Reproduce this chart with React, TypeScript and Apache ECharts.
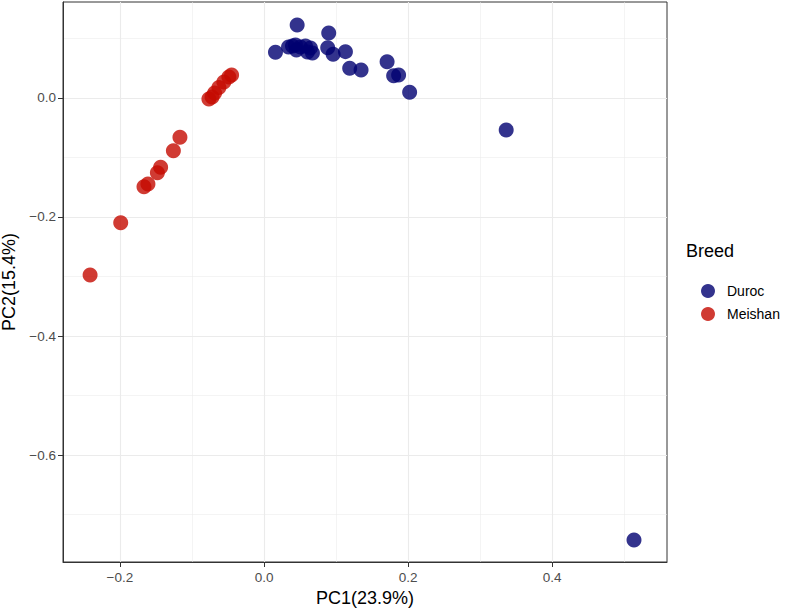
import React, { useEffect, useRef } from "react";
import * as echarts from "echarts";

// PCA scores
const durocPC1 = [0.0159, 0.046, 0.034, 0.0395, 0.0437, 0.0506, 0.0575, 0.0644, 0.0672, 0.045, 0.0603, 0.0898, 0.0884, 0.0959, 0.113, 0.1189, 0.1347, 0.1708, 0.1799, 0.1868, 0.2021, 0.3361, 0.5135];
const durocPC2 = [0.0768, 0.1227, 0.0857, 0.0874, 0.0891, 0.0857, 0.0874, 0.084, 0.0756, 0.0807, 0.0773, 0.1092, 0.0846, 0.0735, 0.0779, 0.0499, 0.0471, 0.061, 0.0375, 0.0387, 0.0096, -0.0538, -0.7429];
const meishanPC1 = [-0.2414, -0.1989, -0.1666, -0.1611, -0.148, -0.1435, -0.1258, -0.1167, -0.0765, -0.0721, -0.0686, -0.0626, -0.0557, -0.0488, -0.045];
const meishanPC2 = [-0.2975, -0.2096, -0.1491, -0.1445, -0.1255, -0.1165, -0.0886, -0.0661, -0.0017, 0.0017, 0.0084, 0.0176, 0.0269, 0.0353, 0.0387];

const seriesNames = ["Duroc", "Meishan"];
const xMajorTicks = [-0.2, 0, 0.2, 0.4];
const xMinorTicks = [-0.1, 0.1, 0.3, 0.5];
const yMajorTicks = [-0.6, -0.4, -0.2, 0];
const yMinorTicks = [-0.7, -0.5, -0.3, -0.1, 0.1];
const xLimits = [-0.279, 0.5593];
const yLimits = [-0.7798, 0.1613];

const FONT = "'Liberation Sans', Arial, Helvetica, sans-serif";
const fmt = (v: number) => v.toFixed(1).replace("-", "\u2212");

export default function App() {
  const ref = useRef<HTMLDivElement>(null);
  useEffect(() => {
    document.body.style.margin = "0";
    const chart = echarts.init(ref.current!, null, { renderer: "svg" });
    const zip = (a: number[], b: number[]) => a.map((v, i) => [v, b[i]]);
    const gridLine = (w: number) => ({ show: true, lineStyle: { color: "#ebebeb", width: w } });
    chart.setOption({
      animation: false,
      backgroundColor: "#ffffff",
      textStyle: { fontFamily: FONT },
      title: {
        text: "Breed",
        left: 686,
        top: 242,
        padding: 0,
        textStyle: { fontSize: 18, fontWeight: "normal", color: "#000", fontFamily: FONT },
      },
      legend: {
        orient: "vertical",
        left: 696,
        top: 279,
        itemWidth: 14,
        itemHeight: 14,
        itemGap: 9,
        icon: "circle",
        data: seriesNames,
        textStyle: { fontSize: 14, color: "#000", fontFamily: FONT, padding: [0, 0, 0, 7] },
      },
      grid: {
        left: 63,
        right: 120,
        top: 2,
        bottom: 49,
        show: true,
        borderColor: "#333333",
        borderWidth: 1,
        backgroundColor: "#ffffff",
        containLabel: false,
        outerBoundsMode: "none",
      },
      xAxis: [
        {
          type: "value",
          min: xLimits[0],
          max: xLimits[1],
          position: "bottom",
          name: "PC1(23.9%)",
          nameLocation: "middle",
          nameGap: 27,
          nameTextStyle: { fontSize: 18, color: "#000", fontFamily: FONT },
          axisLine: { show: true, onZero: false, lineStyle: { color: "#333333", width: 1 } },
          axisTick: { show: true, length: 5, customValues: xMajorTicks, lineStyle: { color: "#333333" } },
          axisLabel: { customValues: xMajorTicks, formatter: fmt, color: "#4d4d4d", fontSize: 13.5, margin: 8, fontFamily: FONT },
          splitLine: gridLine(1.1),
        },
        {
          type: "value",
          min: xLimits[0],
          max: xLimits[1],
          position: "bottom",
          axisLine: { show: false },
          axisTick: { show: false, customValues: xMinorTicks },
          axisLabel: { show: false },
          splitLine: gridLine(0.55),
        },
      ],
      yAxis: [
        {
          type: "value",
          min: yLimits[0],
          max: yLimits[1],
          position: "left",
          name: "PC2(15.4%)",
          nameLocation: "middle",
          nameGap: 36,
          nameTextStyle: { fontSize: 18, color: "#000", fontFamily: FONT },
          axisLine: { show: true, onZero: false, lineStyle: { color: "#333333", width: 1 } },
          axisTick: { show: true, length: 5, customValues: yMajorTicks, lineStyle: { color: "#333333" } },
          axisLabel: { customValues: yMajorTicks, formatter: fmt, color: "#4d4d4d", fontSize: 13.5, margin: 7, fontFamily: FONT },
          splitLine: gridLine(1.1),
        },
        {
          type: "value",
          min: yLimits[0],
          max: yLimits[1],
          position: "left",
          axisLine: { show: false },
          axisTick: { show: false, customValues: yMinorTicks },
          axisLabel: { show: false },
          splitLine: gridLine(0.55),
        },
      ],
      series: [
        {
          name: seriesNames[0],
          type: "scatter",
          xAxisIndex: 0,
          yAxisIndex: 0,
          symbolSize: 15,
          itemStyle: { color: "rgb(0,0,112)", opacity: 0.8 },
          data: zip(durocPC1, durocPC2),
        },
        {
          name: seriesNames[1],
          type: "scatter",
          xAxisIndex: 0,
          yAxisIndex: 0,
          symbolSize: 15,
          itemStyle: { color: "rgb(196,10,0)", opacity: 0.8 },
          data: zip(meishanPC1, meishanPC2),
        },
      ],
    });
    return () => chart.dispose();
  }, []);
  return <div ref={ref} style={{ width: 787, height: 611, position: "absolute", left: 0, top: 0 }} />;
}
